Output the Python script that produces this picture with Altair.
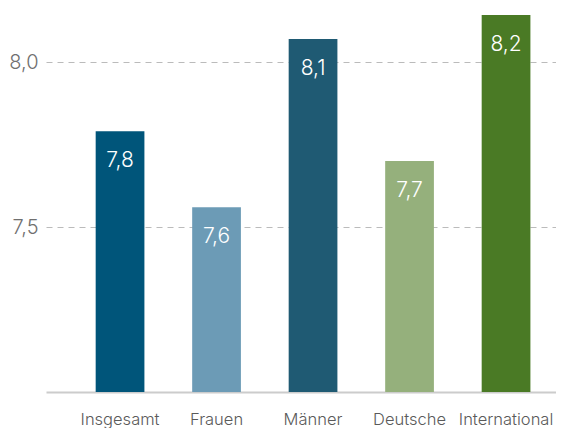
import altair as alt
import pandas as pd

categories = ["Insgesamt", "Frauen", "Männer", "Deutsche", "International"]
values = [7.79, 7.56, 8.07, 7.70, 8.148]
labels = ["7,8", "7,6", "8,1", "7,7", "8,2"]
colors = ["#00557a", "#6c9bb6", "#1f5a73", "#95b07c", "#4a7a25"]

df = pd.DataFrame({"cat": categories, "val": values, "lab": labels})

FONT = "Inter"

x = alt.X("cat:N", sort=categories, title=None,
          scale=alt.Scale(paddingInner=0.495, paddingOuter=0.39, align=0.66),
          axis=alt.Axis(labelAngle=0, labelFontSize=16.5, labelColor="#5a5a5a",
                        labelFont=FONT, labelFontWeight=300, labelPadding=19, ticks=False,
                        domain=True, domainColor="#cccccc", domainWidth=2,
                        grid=False))
y = alt.Y("val:Q", title=None,
          scale=alt.Scale(domain=[7.0, 7.0 + 377 / 330], nice=False, zero=False, clamp=True),
          axis=alt.Axis(values=[7.5, 8.0], labelExpr="replace(format(datum.value, '.1f'), '.', ',')",
                        labelFontSize=20, labelColor="#707070", labelFont=FONT,
                        labelFontWeight=300, labelPadding=8, ticks=False, domain=False,
                        grid=True, gridDash=[6, 5], gridColor="#bbbbbb", gridWidth=1))

bars = alt.Chart(df).mark_bar().encode(
    x=x, y=y,
    color=alt.Color("cat:N", sort=categories,
                    scale=alt.Scale(domain=categories, range=colors), legend=None),
)

text = alt.Chart(df).mark_text(color="white", fontSize=21, font=FONT, fontWeight=300,
                               baseline="middle", dy=30).encode(
    x=alt.X("cat:N", sort=categories), y="val:Q", text="lab:N")

chart = (bars + text).properties(
    width=510, height=377,
    padding={"left": 0, "top": 7, "right": 0, "bottom": 0},
).configure_view(stroke=None)

chart.save("out.html", embed_options={"renderer": "svg", "actions": False})
